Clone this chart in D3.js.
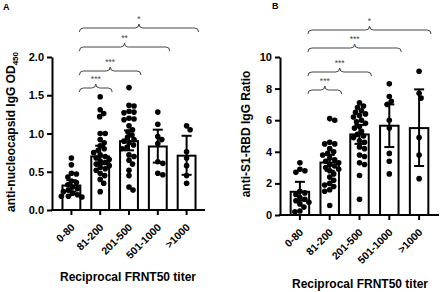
<!DOCTYPE html>
<html lang="en">
<head>
<meta charset="UTF-8">
<title>IgG vs FRNT50 titer</title>
<script src="https://cdn.jsdelivr.net/npm/d3@7"></script>
<style>
body { margin: 0; background: #fff; }
text { font-family: Arial, "Liberation Sans", sans-serif; font-weight: bold; }
</style>
</head>
<body>
<script type="text/javascript">

var categories = ["0-80", "81-200", "201-500", "501-1000", ">1000"];

// panel A - anti-nucleocapsid IgG OD450
var ncpMean = [0.32, 0.70, 0.90, 0.83, 0.71];
var ncpLow  = [0.24, 0.60, 0.78, 0.62, 0.46];
var ncpHigh = [0.39, 0.84, 1.04, 1.05, 0.97];
var ncpPoints = [
  [0.68, 0.59, 0.48, 0.47, 0.43, 0.38, 0.36, 0.33, 0.30, 0.28, 0.26, 0.24, 0.22, 0.20, 0.18, 0.18, 0.17],
  [1.48, 1.31, 1.26, 1.22, 1.00, 1.00, 0.92, 0.88, 0.84, 0.80, 0.78, 0.75, 0.72, 0.70, 0.68, 0.66, 0.64, 0.62, 0.60, 0.58, 0.56, 0.54, 0.52, 0.48, 0.45, 0.40, 0.35, 0.24],
  [1.60, 1.37, 1.36, 1.29, 1.28, 1.27, 1.20, 1.19, 1.18, 1.10, 1.05, 1.02, 0.98, 0.95, 0.92, 0.90, 0.88, 0.85, 0.82, 0.80, 0.72, 0.70, 0.65, 0.60, 0.52, 0.45, 0.30, 0.26],
  [1.28, 1.12, 0.96, 0.92, 0.87, 0.63, 0.61, 0.48, 0.46],
  [1.10, 1.05, 0.76, 0.68, 0.58, 0.45, 0.35]
];
var ncpTicks = [0, 0.5, 1.0, 1.5, 2.0];
var ncpStars = ["***", "***", "**", "*"];

// panel B - anti-S1-RBD IgG ratio
var rbdMean = [1.47, 3.32, 5.10, 5.65, 5.50];
var rbdLow  = [0.90, 2.80, 4.50, 4.30, 3.10];
var rbdHigh = [2.10, 3.80, 5.70, 7.00, 7.95];
var rbdPoints = [
  [3.3, 2.9, 2.8, 2.7, 1.5, 1.4, 1.3, 1.1, 1.0, 0.9, 0.8, 0.7, 0.5, 0.25, 0.2],
  [6.1, 6.0, 4.6, 4.5, 4.5, 4.2, 4.0, 3.9, 3.8, 3.6, 3.5, 3.4, 3.3, 3.2, 3.1, 3.0, 2.9, 2.8, 2.6, 2.4, 2.2, 2.0, 1.9, 1.8, 1.6, 1.5, 0.6],
  [7.1, 6.9, 6.8, 6.6, 6.5, 6.4, 6.3, 6.2, 6.0, 5.9, 5.8, 5.6, 5.5, 5.3, 5.1, 5.0, 4.9, 4.7, 4.6, 4.3, 4.2, 3.8, 3.7, 3.3, 3.2, 2.5, 1.0],
  [8.3, 7.5, 7.2, 7.0, 6.0, 5.5, 3.9, 3.4, 2.6],
  [9.1, 7.7, 7.4, 4.9, 3.8, 2.3]
];
var rbdTicks = [0, 2, 4, 6, 8, 10];
var rbdStars = ["***", "***", "***", "*"];

// each bracket compares group 0 with group i+1
var compareWith = [1, 2, 3, 4];

var svg = d3.select("body").append("svg")
  .attr("width", 440)
  .attr("height", 292);

// curly brace path
function brace(x1, x2, yl) {
  var m = (x1 + x2) / 2, h = 4;
  return "M" + x1 + "," + (yl + h) +
    " Q" + x1 + "," + yl + " " + (x1 + h) + "," + yl +
    " L" + (m - h) + "," + yl +
    " Q" + m + "," + yl + " " + m + "," + (yl - h) +
    " Q" + m + "," + yl + " " + (m + h) + "," + yl +
    " L" + (x2 - h) + "," + yl +
    " Q" + x2 + "," + yl + " " + x2 + "," + (yl + h);
}

// simple beeswarm so dots don't pile up
function swarm(vals, y, cx, r) {
  var placed = [], minD = 2 * r - 0.6;
  vals.slice().sort(function (a, b) { return b - a; }).forEach(function (v) {
    var py = y(v), off = 0;
    for (var k = 0; k < 400; k++) {
      var c = (k % 2 === 1 ? 1 : -1) * Math.ceil(k / 2) * 0.5;
      var hit = placed.some(function (p) {
        return (p.x - (cx + c)) * (p.x - (cx + c)) + (p.y - py) * (p.y - py) < minD * minD;
      });
      if (!hit) { off = c; break; }
    }
    placed.push({ x: cx + off, y: py });
  });
  return placed;
}

function drawPanel(p) {
  var g = svg.append("g");

  var y = d3.scaleLinear().domain(p.yDomain).range([p.bottom, p.top]);
  var x = d3.scaleBand().domain(categories).range(p.band).padding(0);
  var step = x.bandwidth(), bw = step * 0.62;
  var cx = function (c) { return x(c) + step / 2; };

  // bars
  g.selectAll(".bar")
    .data(categories)
    .enter().append("rect")
    .attr("x", function (c) { return cx(c) - bw / 2; })
    .attr("y", function (c, i) { return y(p.mean[i]); })
    .attr("width", bw)
    .attr("height", function (c, i) { return p.bottom - y(p.mean[i]); })
    .style("fill", "#fff")
    .style("stroke", "#000")
    .style("stroke-width", 2);

  // dots
  categories.forEach(function (c, i) {
    g.selectAll(null)
      .data(swarm(p.points[i], y, cx(c), 2.8))
      .enter().append("circle")
      .attr("cx", function (d) { return d.x; })
      .attr("cy", function (d) { return d.y; })
      .attr("r", 2.8)
      .style("fill", "#000");
  });

  // error bars
  var eb = g.selectAll(".err").data(categories).enter().append("g");
  eb.append("line")
    .attr("x1", cx).attr("x2", cx)
    .attr("y1", function (c, i) { return y(p.low[i]); })
    .attr("y2", function (c, i) { return y(p.high[i]); });
  eb.append("line")
    .attr("x1", function (c) { return cx(c) - 5; })
    .attr("x2", function (c) { return cx(c) + 5; })
    .attr("y1", function (c, i) { return y(p.high[i]); })
    .attr("y2", function (c, i) { return y(p.high[i]); });
  eb.append("line")
    .attr("x1", function (c) { return cx(c) - 5; })
    .attr("x2", function (c) { return cx(c) + 5; })
    .attr("y1", function (c, i) { return y(p.low[i]); })
    .attr("y2", function (c, i) { return y(p.low[i]); });
  eb.selectAll("line").style("stroke", "#000").style("stroke-width", 2);

  // y axis
  var ya = g.append("g")
    .attr("transform", "translate(" + p.axisX + ",0)")
    .call(d3.axisLeft(y).tickValues(p.ticks).tickFormat(p.fmt).tickSize(5).tickSizeOuter(0));
  ya.select(".domain").style("stroke-width", 2);
  ya.selectAll(".tick line").style("stroke-width", 2);
  ya.selectAll(".tick text").style("font-size", "11px").style("fill", "#000");

  // x axis
  g.append("line")
    .attr("x1", p.axisX - 1).attr("x2", p.axisEnd)
    .attr("y1", p.bottom).attr("y2", p.bottom)
    .style("stroke", "#000").style("stroke-width", 2);
  g.selectAll(".xt").data(categories).enter().append("line")
    .attr("x1", cx).attr("x2", cx)
    .attr("y1", p.bottom).attr("y2", p.bottom + 5)
    .style("stroke", "#000").style("stroke-width", 2);
  g.selectAll(".xl").data(categories).enter().append("text")
    .attr("transform", function (c) { return "translate(" + (cx(c) + 4) + "," + (p.bottom + 18) + ") rotate(-45)"; })
    .attr("text-anchor", "end")
    .style("font-size", "10.5px")
    .text(function (c) { return c; });

  // significance brackets
  compareWith.forEach(function (j, i) {
    var x1 = cx(categories[0]) + 8, x2 = cx(categories[j]) + 12;
    g.append("path")
      .attr("d", brace(x1, x2, p.levels[i]))
      .style("fill", "none")
      .style("stroke", "#444")
      .style("stroke-width", 1);
    g.append("text")
      .attr("x", (x1 + x2) / 2)
      .attr("y", p.levels[i] - 6)
      .attr("text-anchor", "middle")
      .style("font-size", "8.5px")
      .style("font-weight", "normal")
      .style("fill", "#444")
      .text(p.stars[i]);
  });

  // titles
  var yl = g.append("text")
    .attr("transform", "translate(" + p.yLabelPos[0] + "," + p.yLabelPos[1] + ") rotate(-90)")
    .attr("text-anchor", "middle")
    .style("font-size", "12px");
  yl.append("tspan").text(p.yLabel);
  if (p.ySub) yl.append("tspan").attr("dy", 3).style("font-size", "8px").text(p.ySub);

  g.append("text")
    .attr("x", p.xTitlePos[0]).attr("y", p.xTitlePos[1])
    .attr("text-anchor", "middle")
    .style("font-size", "12px")
    .text("Reciprocal FRNT50 titer");

  g.append("text")
    .attr("x", p.letterPos[0]).attr("y", p.letterPos[1])
    .style("font-size", "9px")
    .text(p.letter);
}

drawPanel({
  letter: "A", letterPos: [3, 10],
  yDomain: [0, 2], top: 57, bottom: 210,
  band: [57, 201], axisX: 52, axisEnd: 205,
  ticks: ncpTicks, fmt: d3.format(".1f"),
  mean: ncpMean, low: ncpLow, high: ncpHigh, points: ncpPoints,
  stars: ncpStars, levels: [88, 71, 47, 28],
  yLabel: "anti-nucleocapsid IgG OD", ySub: "450", yLabelPos: [15, 132],
  xTitlePos: [128, 281]
});

drawPanel({
  letter: "B", letterPos: [272, 9],
  yDomain: [0, 10], top: 57, bottom: 215,
  band: [285, 434], axisX: 280, axisEnd: 439,
  ticks: rbdTicks, fmt: d3.format("d"),
  mean: rbdMean, low: rbdLow, high: rbdHigh, points: rbdPoints,
  stars: rbdStars, levels: [90, 72, 48, 30],
  yLabel: "anti-S1-RBD IgG Ratio", ySub: null, yLabelPos: [250, 134],
  xTitlePos: [360, 288]
});

</script>
</body>
</html>
